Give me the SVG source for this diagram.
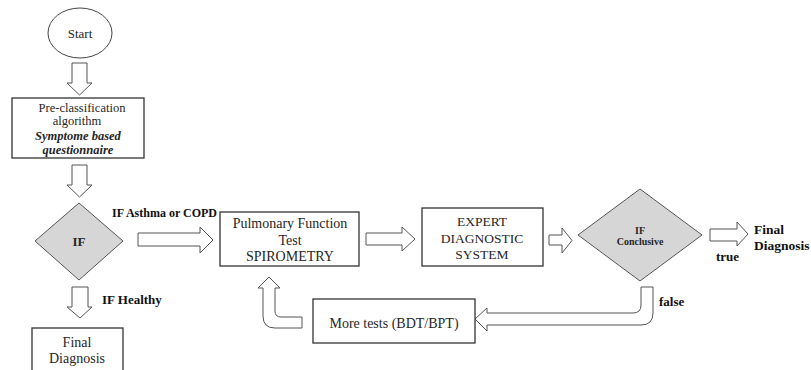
<svg xmlns="http://www.w3.org/2000/svg" width="811" height="370" viewBox="0 0 811 370">
<style>
.bx{fill:#fff;stroke:#333;stroke-width:1.3}
.dm{fill:#d6d6d6;stroke:#555;stroke-width:1}
.ar{fill:#fff;stroke:#555;stroke-width:1}
text{font-family:"Liberation Serif","Times New Roman",Times,"Nimbus Roman","DejaVu Serif",serif}
.t{fill:#262626;text-anchor:middle}
.b{fill:#111;font-weight:bold}
</style>
<rect width="811" height="370" fill="#fff"/>
<g id="connectors">
<path class="ar" d="M72,63 H87 V83 H92 L79.5,95 L67,83 H72 Z"/>
<path class="ar" d="M72,165 H87 V185 H92 L79.5,197 L67,185 H72 Z"/>
<path class="ar" d="M72,287 H88 V307 H92 L80,318 L67,307 H72 Z"/>
<path class="ar" d="M138,233 H200 V227 L213,240 L200,253 V246 H138 Z"/>
<path class="ar" d="M366,233 H402 V227 L415,239 L402,251 V245 H366 Z"/>
<path class="ar" d="M549,235 H562 V228 L572,240.5 L562,253 V245 H549 Z"/>
<path class="ar" d="M710,229 H737 V222 L748,234 L737,246 V241 H710 Z"/>
<path class="ar" d="M641,287 H653 V313 Q653,325 641,325 H487 V331 L475,319 L487,308 V313 H633 Q641,313 641,305 Z"/>
<path class="ar" d="M302,317 V328 H275 Q263,328 263,316 V288 H258 L269,277 L280,288 H275 V311 Q275,317 281,317 Z"/>
</g>
<g id="start">
<ellipse cx="80" cy="33" rx="32" ry="25" fill="#fff" stroke="#444" stroke-width="1"/>
<text class="t" x="80" y="38" font-size="13">Start</text>
</g>
<g id="preclass">
<rect class="bx" x="12" y="98" width="132" height="60"/>
<text class="t" x="82" y="112" font-size="12.5">Pre-classification</text>
<text class="t" x="77" y="125" font-size="12.5">algorithm</text>
<text class="t" x="78" y="140" font-size="12.5" font-weight="bold" font-style="italic">Symptome based</text>
<text class="t" x="78" y="154" font-size="12.5" font-weight="bold" font-style="italic">questionnaire</text>
</g>
<g id="if1">
<polygon class="dm" points="79,203 123,241 79,280 35,241"/>
<text class="t" x="79" y="246" font-size="13" font-weight="bold">IF</text>
</g>
<g id="final1">
<rect class="bx" x="32" y="328" width="91" height="50"/>
<text class="t" x="77" y="347" font-size="14">Final</text>
<text class="t" x="77" y="363" font-size="14">Diagnosis</text>
</g>
<g id="pft">
<rect class="bx" x="220" y="212" width="139" height="54"/>
<text class="t" x="290" y="228" font-size="14">Pulmonary Function</text>
<text class="t" x="290" y="245" font-size="14">Test</text>
<text class="t" x="290" y="261" font-size="14">SPIROMETRY</text>
</g>
<g id="expert">
<rect class="bx" x="422" y="208" width="121" height="58"/>
<text class="t" x="482" y="226" font-size="13.5">EXPERT</text>
<text class="t" x="482" y="243" font-size="13.5">DIAGNOSTIC</text>
<text class="t" x="482" y="259" font-size="13.5">SYSTEM</text>
</g>
<g id="if2">
<polygon class="dm" points="640,189 702,235 640,281 578,235"/>
<text class="t" x="640" y="234" font-size="10" font-weight="bold">IF</text>
<text class="t" x="640" y="245" font-size="10" font-weight="bold">Conclusive</text>
</g>
<g id="moretests">
<rect class="bx" x="313" y="299" width="162" height="44"/>
<text class="t" x="394" y="328" font-size="14">More tests (BDT/BPT)</text>
</g>
<g id="labels">
<text class="b" x="112" y="217" font-size="12">IF Asthma or COPD</text>
<text class="b" x="102" y="304" font-size="13">IF Healthy</text>
<text class="b" x="754" y="234" font-size="13.5">Final</text>
<text class="b" x="754" y="250" font-size="13.5">Diagnosis</text>
<text class="b" x="716" y="261" font-size="13">true</text>
<text class="b" x="659" y="306" font-size="13">false</text>
</g>
</svg>
